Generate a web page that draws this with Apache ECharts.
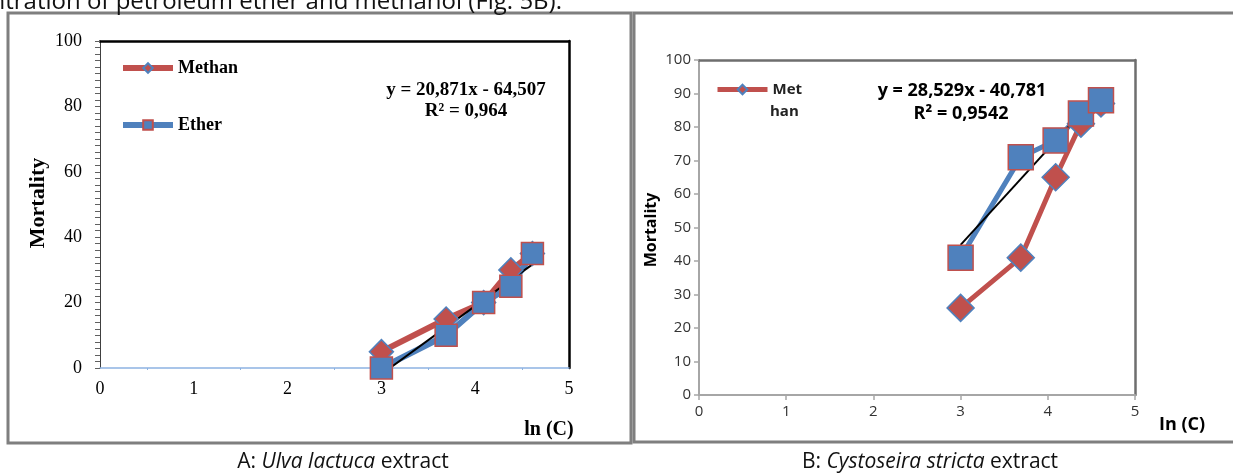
<!DOCTYPE html>
<html>
<head>
<meta charset="utf-8">
<script src="https://cdn.jsdelivr.net/npm/echarts@6/dist/echarts.min.js"></script>
<style>
html, body { margin: 0; padding: 0; background: #fff; }
#chart { width: 1233px; height: 475px; }
</style>
</head>
<body>
<div id="chart"></div>
<script>
// ln of the concentrations (20, 40, 60, 80, 100)
const lnC = [3.0, 3.69, 4.09, 4.38, 4.61]
// A: Ulva lactuca
const methanA = [5, 15, 20, 30, 35]
const etherA = [0, 10, 20, 25, 35]
const trendA = [[3.0, -1.9], [4.61, 31.7]]
// B: Cystoseira stricta
const methanB = [26, 41, 65, 81, 87]
const etherB = [41, 71, 76, 84, 88]
const trendB = [[3.0, 44.8], [4.61, 90.7]]

const RED = '#c0504d'
const BLUE = '#4f81bd'
const SERIF = 'Liberation Serif'
const SANS = 'Open Sans'

function pairs(xs, ys) {
  return xs.map((x, i) => [x, ys[i]])
}

function dataSeries(name, data, color, border, symbol, size, width, idx) {
  return {
    name: name,
    type: 'line',
    xAxisIndex: idx,
    yAxisIndex: idx,
    data: data,
    symbol: symbol,
    symbolSize: size,
    lineStyle: { color: color, width: width },
    itemStyle: { color: color, borderColor: border, borderWidth: 1.5 },
    emphasis: { disabled: true },
  }
}

function trendSeries(data, idx) {
  return {
    type: 'line',
    xAxisIndex: idx,
    yAxisIndex: idx,
    data: data,
    symbol: 'none',
    silent: true,
    lineStyle: { color: '#000', width: 2 },
  }
}

// plain frame axis (top / right border of a plot area)
function frameAxis(grid, max, pos, color) {
  return {
    gridIndex: grid, type: 'value', min: 0, max: max, position: pos,
    axisLine: { show: true, onZero: false, lineStyle: { color: color, width: 2.5 } },
    axisTick: { show: false }, axisLabel: { show: false }, splitLine: { show: false },
  }
}

function label(text, x, y, font, size, extra) {
  return Object.assign({
    type: 'text', x: x, y: y, silent: true,
    style: { text: text, align: 'center', verticalAlign: 'middle',
      fontFamily: font, fontWeight: 'bold', fontSize: size, fill: '#000' },
  }, extra || {})
}

const chart = echarts.init(document.getElementById('chart'))
const option = {
  animation: false,
  grid: [
    { left: 100, top: 41, width: 469, height: 327 },
    { left: 699, top: 60, width: 436, height: 335 },
  ],
  xAxis: [
    {
      gridIndex: 0, type: 'value', min: 0, max: 5, interval: 1,
      axisLine: { onZero: false, lineStyle: { color: '#8db3e2', width: 1.5 } },
      axisTick: { show: false },
      minorTick: { show: true, splitNumber: 2, length: 2, lineStyle: { color: '#8db3e2' } },
      splitLine: { show: false },
      axisLabel: { fontFamily: SERIF, fontSize: 18, color: '#000', margin: 12 },
    },
    {
      gridIndex: 1, type: 'value', min: 0, max: 5, interval: 1,
      axisLine: { onZero: false, lineStyle: { color: '#a6a6a6', width: 2 } },
      axisTick: { show: true, length: 5, lineStyle: { color: '#a6a6a6', width: 1.5 } },
      splitLine: { show: false },
      axisLabel: { fontFamily: SANS, fontSize: 15, color: '#333', margin: 9 },
    },
    frameAxis(0, 5, 'top', '#000'),
    frameAxis(1, 5, 'top', '#6e6e6e'),
  ],
  yAxis: [
    {
      gridIndex: 0, type: 'value', min: 0, max: 100, interval: 20,
      axisLine: { show: true, onZero: false, lineStyle: { color: '#404040', width: 1 } },
      axisTick: { show: true, length: 5, lineStyle: { color: '#606060' } },
      minorTick: { show: true, splitNumber: 10, length: 5, lineStyle: { color: '#606060' } },
      splitLine: { show: false },
      axisLabel: { fontFamily: SERIF, fontSize: 18, color: '#000', margin: 18 },
    },
    {
      gridIndex: 1, type: 'value', min: 0, max: 100, interval: 10,
      axisLine: { show: true, onZero: false, lineStyle: { color: '#a6a6a6', width: 2 } },
      axisTick: { show: true, length: 5, lineStyle: { color: '#a6a6a6', width: 1.5 } },
      splitLine: { show: false },
      axisLabel: { fontFamily: SANS, fontSize: 15, color: '#333', margin: 8 },
    },
    frameAxis(0, 100, 'right', '#000'),
    frameAxis(1, 100, 'right', '#6e6e6e'),
  ],
  legend: [
    {
      data: ['Methan', 'Ether'],
      orient: 'vertical',
      left: 120,
      top: 59,
      padding: 0,
      itemWidth: 50,
      itemHeight: 12,
      itemGap: 39,
      selectedMode: false,
      lineStyle: { width: 6 },
      textStyle: { fontFamily: SERIF, fontWeight: 'bold', fontSize: 18, color: '#000' },
    },
    {
      data: ['Methan'],
      left: 715,
      top: 82,
      padding: 0,
      itemWidth: 50,
      itemHeight: 12,
      selectedMode: false,
      lineStyle: { width: 5 },
      formatter: () => 'Met',
      textStyle: { fontFamily: SANS, fontWeight: 'bold', fontSize: 15, color: '#222' },
    },
  ],
  series: [
    dataSeries('Methan', pairs(lnC, methanA), RED, BLUE, 'diamond', 24, 6, 0),
    dataSeries('Ether', pairs(lnC, etherA), BLUE, RED, 'rect', 22, 6, 0),
    trendSeries(trendA, 0),
    dataSeries('Methan', pairs(lnC, methanB), RED, BLUE, 'diamond', 27, 5, 1),
    dataSeries('Ether', pairs(lnC, etherB), BLUE, RED, 'rect', 25, 5, 1),
    trendSeries(trendB, 1),
  ],
  graphic: [
    { type: 'rect', shape: { x: 8, y: 13, width: 623, height: 430 },
      style: { fill: 'none', stroke: '#7f7f7f', lineWidth: 3 }, silent: true },
    { type: 'rect', shape: { x: 634, y: 13, width: 640, height: 429 },
      style: { fill: 'none', stroke: '#7f7f7f', lineWidth: 3 }, silent: true },
    { type: 'text', x: 562, y: 14, silent: true,
      style: { text: 'concentration of petroleum ether and methanol (Fig. 5B).', align: 'right', verticalAlign: 'bottom',
        fontFamily: SANS, fontSize: 24, fill: '#111' } },
    // panel A texts
    label('y = 20,871x - 64,507', 466, 90, SERIF, 19),
    label('R² = 0,964', 466, 111, SERIF, 19),
    label('Mortality', 38, 203, SERIF, 22, { rotation: Math.PI / 2 }),
    label('ln (C)', 549, 430, SERIF, 20),
    // panel B texts
    label('y = 28,529x - 40,781', 962, 91, SANS, 18),
    label('R² = 0,9542', 961, 114, SANS, 18),
    label('Mortality', 651, 230, SANS, 16, { rotation: Math.PI / 2 }),
    label('In (C)', 1182, 425, SANS, 18),
    { type: 'text', x: 770, y: 112, silent: true,
      style: { text: 'han', align: 'left', verticalAlign: 'middle',
        fontFamily: SANS, fontWeight: 'bold', fontSize: 15, fill: '#222' } },
    // captions
    { type: 'text', x: 343, y: 462, silent: true,
      style: { text: '{n|A: }{i|Ulva lactuca}{n| extract}', align: 'center', verticalAlign: 'middle',
        rich: {
          n: { fontFamily: SANS, fontSize: 21, fill: '#111' },
          i: { fontFamily: SANS, fontSize: 21, fontStyle: 'italic', fill: '#111' },
        } } },
    { type: 'text', x: 930, y: 462, silent: true,
      style: { text: '{n|B: }{i|Cystoseira stricta}{n| extract}', align: 'center', verticalAlign: 'middle',
        rich: {
          n: { fontFamily: SANS, fontSize: 21, fill: '#111' },
          i: { fontFamily: SANS, fontSize: 21, fontStyle: 'italic', fill: '#111' },
        } } },
  ],
}
chart.setOption(option)
</script>
</body>
</html>
